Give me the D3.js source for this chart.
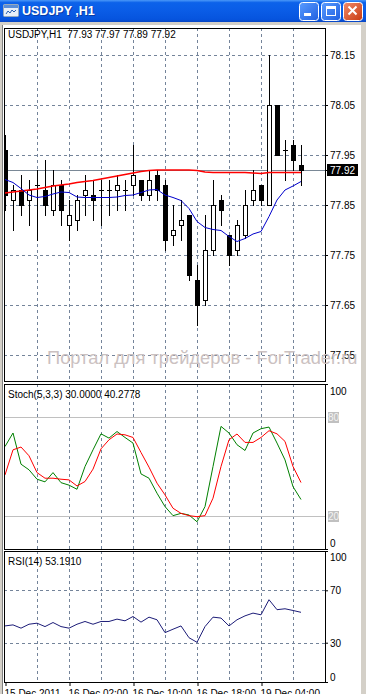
<!DOCTYPE html>
<html><head><meta charset="utf-8">
<script src="https://cdn.jsdelivr.net/npm/d3@7"></script>
<style>html,body{margin:0;padding:0;overflow:hidden;background:#d4d0c8}svg{display:block}</style>
</head><body>
<svg id="c" width="366" height="694"></svg>
<script>
// ---------- data ----------
const symbolTitle = "USDJPY ,H1";
const headerText = "USDJPY,H1  77.93 77.97 77.89 77.92";
const stochText = "Stoch(5,3,3) 30.0000 40.2778";
const rsiText = "RSI(14) 53.1910";
const watermark = "Портал для трейдеров - ForTrader.ru";
const timeLabels = ["15 Dec 2011","16 Dec 02:00","16 Dec 10:00","16 Dec 18:00","19 Dec 04:00"];
const timeLabelIdx = [0,8,16,24,32];
const gridIdx = [4,8,12,16,20,24,28,32,36];
const priceTicks = [77.55,77.65,77.75,77.85,77.95,78.05,78.15];
const lastPrice = 77.92;
const stochTicks = [100,0];
const stochLevels = [80,20];
const rsiTicks = [100,70,30,0];
const rsiLevels = [70,30];

const open  = [77.96,77.86,77.88,77.86,77.89,77.88,77.84,77.89,77.81,77.82,77.87,77.87,77.88,77.88,77.88,77.88,77.89,77.90,77.87,77.91,77.89,77.79,77.81,77.83,77.70,77.66,77.76,77.86,77.79,77.76,77.79,77.86,77.89,77.85,78.05,77.96,77.97,77.93];
const high  = [77.99,77.89,77.91,77.90,77.92,77.94,77.92,77.90,77.86,77.87,77.91,77.90,77.90,77.90,77.91,77.90,77.97,77.90,77.92,77.92,77.90,77.85,77.86,77.83,77.73,77.83,77.90,77.87,77.79,77.82,77.88,77.92,77.89,78.15,78.05,77.98,77.98,77.97];
const low   = [77.84,77.80,77.83,77.81,77.78,77.83,77.83,77.81,77.78,77.80,77.83,77.82,77.81,77.83,77.84,77.84,77.87,77.86,77.86,77.86,77.76,77.77,77.78,77.70,77.61,77.65,77.75,77.81,77.73,77.75,77.785,77.85,77.85,77.85,77.95,77.90,77.92,77.89];
const close = [77.87,77.88,77.85,77.88,77.89,77.85,77.89,77.84,77.83,77.86,77.88,77.86,77.88,77.88,77.89,77.88,77.91,77.87,77.90,77.88,77.78,77.80,77.82,77.71,77.65,77.76,77.85,77.84,77.75,77.81,77.85,77.88,77.86,78.05,77.95,77.96,77.94,77.92];

const maSlow = [77.874,77.876,77.878,77.880,77.882,77.885,77.888,77.890,77.892,77.895,77.897,77.899,77.902,77.905,77.908,77.911,77.914,77.917,77.919,77.920,77.920,77.920,77.920,77.920,77.919,77.916,77.915,77.915,77.915,77.915,77.915,77.914,77.913,77.915,77.915,77.915,77.915,77.915];
const maFast = [77.901,77.895,77.883,77.870,77.865,77.867,77.872,77.876,77.875,77.866,77.865,77.865,77.865,77.865,77.866,77.869,77.870,77.875,77.880,77.881,77.870,77.865,77.859,77.843,77.817,77.805,77.801,77.799,77.787,77.777,77.783,77.792,77.797,77.827,77.860,77.880,77.888,77.897];

const stochMain   = [62.1,70.3,51.4,48.0,42.3,40.7,46.3,40.2,38.7,36.2,50.0,60.1,69.8,67.2,71.2,67.6,64.2,45.5,42.9,33.8,25.7,20.2,21.6,20.6,16.5,25.7,50.0,74.3,70.3,63.2,59.7,70.3,72.9,73.9,64.2,54.0,37.8,30.0];
const stochSignal = [44.9,60.1,61.8,56.5,46.3,42.9,42.9,42.3,41.9,38.2,40.9,48.4,60.7,66.2,69.7,69.2,67.6,58.5,49.6,39.9,32.8,24.7,21.6,20.2,19.6,20.2,30.8,50.0,66.2,69.7,64.6,64.6,67.6,71.7,69.8,65.2,50.0,40.28];
const rsi = [42.8,43.6,41.1,44.1,44.9,42.3,45.4,42.3,41.1,44.1,46.2,44.1,46.2,46.2,48.0,46.7,50.0,45.7,49.5,47.5,37.7,40.3,42.8,33.8,30.3,42.3,49.5,48.8,42.8,47.5,50.5,52.6,51.3,62.8,55.2,55.9,54.6,53.19];

// ---------- layout ----------
const svg = d3.select("#c");
const FONT = "'Liberation Sans', Arial, sans-serif";
const L = 4, R = 325;
const main = {top:28, bottom:381};
const sto = {top:384, bottom:549};
const rsiP = {top:551, bottom:682};
const n = open.length;

const x = d3.scaleLinear().domain([0, n-1]).range([5, 301]);
const y = d3.scaleLinear().domain([77.55, 78.15]).range([355, 55]);
const ys = d3.scaleLinear().domain([0, 100]).range([sto.bottom, sto.top]);
const yr = d3.scaleLinear().domain([0, 100]).range([rsiP.bottom, rsiP.top]);
const px = v => Math.round(v) + 0.5;

const defs = svg.append("defs");
const tg = defs.append("linearGradient").attr("id","tb").attr("x1",0).attr("y1",0).attr("x2",0).attr("y2",1);
[[0,"#4a98f8"],[0.12,"#0c62ea"],[0.5,"#0a5ce6"],[0.88,"#0654de"],[1,"#0845c4"]].forEach(s=>tg.append("stop").attr("offset",s[0]).attr("stop-color",s[1]));
const bg = defs.append("linearGradient").attr("id","btn").attr("x1",0).attr("y1",0).attr("x2",1).attr("y2",1);
[[0,"#5a9cff"],[1,"#1f5fe0"]].forEach(s=>bg.append("stop").attr("offset",s[0]).attr("stop-color",s[1]));
const cg = defs.append("linearGradient").attr("id","cls").attr("x1",0).attr("y1",0).attr("x2",1).attr("y2",1);
[[0,"#f08a6a"],[1,"#c83a10"]].forEach(s=>cg.append("stop").attr("offset",s[0]).attr("stop-color",s[1]));
defs.append("clipPath").attr("id","cm").append("rect").attr("x",L+1).attr("y",main.top+1).attr("width",R-L-1).attr("height",main.bottom-main.top-1);
defs.append("clipPath").attr("id","cs").append("rect").attr("x",L+1).attr("y",sto.top).attr("width",R-L-1).attr("height",sto.bottom-sto.top);
defs.append("clipPath").attr("id","cr").append("rect").attr("x",L+1).attr("y",rsiP.top).attr("width",R-L-1).attr("height",rsiP.bottom-rsiP.top);

// window background
svg.append("rect").attr("x",0).attr("y",0).attr("width",366).attr("height",694).attr("fill","#d4d0c8");
svg.append("rect").attr("x",3).attr("y",25).attr("width",358).attr("height",669).attr("fill","#ffffff");
svg.append("line").attr("x1",2.5).attr("x2",2.5).attr("y1",25).attr("y2",694).attr("stroke","#808080");

// title bar
svg.append("rect").attr("x",0).attr("y",0).attr("width",366).attr("height",22).attr("fill","url(#tb)");
const ic = svg.append("g").attr("transform","translate(3,4)");
ic.append("rect").attr("x",0.5).attr("y",0.5).attr("width",15).attr("height",12).attr("fill","#e8f0fa").attr("stroke","#9ab").attr("rx",1);
ic.append("rect").attr("x",1).attr("y",1).attr("width",14).attr("height",3).attr("fill","#5a8ed8");
ic.append("path").attr("d","M3,10 L5,7 L7,9 L9,6 L11,8 L13,6").attr("fill","none").attr("stroke","#2a60b0").attr("stroke-width",1);
svg.append("text").attr("x",23).attr("y",16).text(symbolTitle).attr("font-family",FONT).attr("font-weight","bold").attr("font-size",12.5).attr("fill","#0a2a80").attr("opacity",0.6);
svg.append("text").attr("x",22).attr("y",15).text(symbolTitle).attr("font-family",FONT).attr("font-weight","bold").attr("font-size",12.5).attr("fill","#ffffff");
// buttons
[[299,"url(#btn)","min"],[321,"url(#btn)","max"],[343,"url(#cls)","close"]].forEach(([bx,f,k])=>{
  svg.append("rect").attr("x",bx+0.5).attr("y",2.5).attr("width",19).attr("height",18).attr("rx",3).attr("fill",f).attr("stroke","#ffffff");
  if(k==="min") svg.append("rect").attr("x",bx+5).attr("y",13).attr("width",7).attr("height",3).attr("fill","#fff");
  if(k==="max"){ svg.append("rect").attr("x",bx+5.5).attr("y",6.5).attr("width",9).attr("height",9).attr("fill","none").attr("stroke","#fff");
                 svg.append("rect").attr("x",bx+5).attr("y",6).attr("width",10).attr("height",3).attr("fill","#fff"); }
  if(k==="close") svg.append("path").attr("d",`M${bx+5.5},6.5 L${bx+13.5},14.5 M${bx+13.5},6.5 L${bx+5.5},14.5`).attr("stroke","#fff").attr("stroke-width",2);
});

const gridColor = "#74849a";
function vgrid(top,bottom){
  svg.append("g").selectAll("line").data(gridIdx).join("line")
    .attr("x1",d=>px(x(d))).attr("x2",d=>px(x(d))).attr("y1",top).attr("y2",bottom)
    .attr("stroke",gridColor).attr("stroke-dasharray","3,3").attr("shape-rendering","crispEdges");
}

// ---------- main pane ----------
vgrid(main.top, main.bottom);
svg.append("g").selectAll("line").data(priceTicks).join("line")
  .attr("x1",L).attr("x2",R).attr("y1",d=>px(y(d))).attr("y2",d=>px(y(d)))
  .attr("stroke",gridColor).attr("stroke-dasharray","3,3").attr("shape-rendering","crispEdges");
svg.append("line").attr("x1",L).attr("x2",R).attr("y1",px(y(lastPrice))).attr("y2",px(y(lastPrice)))
  .attr("stroke","#7a8896").attr("shape-rendering","crispEdges");

const gm = svg.append("g").attr("clip-path","url(#cm)").attr("shape-rendering","crispEdges");
const idx = d3.range(n);
gm.selectAll("line.w").data(idx).join("line").attr("class","w")
  .attr("x1",i=>px(x(i))).attr("x2",i=>px(x(i))).attr("y1",i=>Math.round(y(high[i]))).attr("y2",i=>Math.round(y(low[i]))+1)
  .attr("stroke","#000");
gm.selectAll("rect.b").data(idx.filter(i=>open[i]!==close[i])).join("rect").attr("class","b")
  .attr("x",i=>Math.round(x(i))-1.5).attr("width",4)
  .attr("y",i=>Math.round(y(Math.max(open[i],close[i])))+0.5)
  .attr("height",i=>Math.max(1,Math.round(y(Math.min(open[i],close[i])))-Math.round(y(Math.max(open[i],close[i])))))
  .attr("fill",i=>close[i]>open[i]?"#fff":"#000").attr("stroke","#000");
gm.selectAll("line.d").data(idx.filter(i=>open[i]===close[i])).join("line").attr("class","d")
  .attr("x1",i=>Math.round(x(i))-2).attr("x2",i=>Math.round(x(i))+3).attr("y1",i=>px(y(open[i]))).attr("y2",i=>px(y(open[i])))
  .attr("stroke","#000");

const gl = svg.append("g").attr("clip-path","url(#cm)");
gl.append("path").datum(maSlow).attr("d",d3.line().x((d,i)=>x(i)).y(d=>y(d))).attr("fill","none").attr("stroke","#ff0000").attr("stroke-width",1.6);
gl.append("path").datum(maFast).attr("d",d3.line().x((d,i)=>x(i)).y(d=>y(d))).attr("fill","none").attr("stroke","#0000cc").attr("stroke-width",1);

svg.append("rect").attr("x",L+0.5).attr("y",main.top+0.5).attr("width",R-L).attr("height",main.bottom-main.top).attr("fill","none").attr("stroke","#000").attr("shape-rendering","crispEdges");

const pa = svg.append("g").attr("transform",`translate(${R},0)`)
  .call(d3.axisRight(y).tickValues(priceTicks).tickSize(3).tickPadding(2).tickFormat(d3.format(".2f")));
pa.select(".domain").remove();
pa.selectAll("text").attr("font-family",FONT).attr("font-size",10).attr("fill","#000");
pa.selectAll("line").attr("stroke","#000");
// current price label
const ly = Math.round(y(lastPrice));
svg.append("rect").attr("x",327).attr("y",ly-6).attr("width",31).attr("height",12).attr("fill","#000");
svg.append("text").attr("x",330).attr("y",ly).attr("dy","0.35em").text(d3.format(".2f")(lastPrice)).attr("font-family",FONT).attr("font-size",10).attr("fill","#fff");
svg.append("line").attr("x1",R).attr("x2",R+3).attr("y1",ly+0.5).attr("y2",ly+0.5).attr("stroke","#000");

svg.append("text").attr("x",8).attr("y",38).text(headerText).attr("font-family",FONT).attr("font-size",10).attr("fill","#000").style("white-space","pre");
svg.append("text").attr("x",47).attr("y",364).text(watermark).attr("font-family",FONT).attr("font-size",18.3).attr("fill","#cbc1c1").style("white-space","pre");

// ---------- stochastic pane ----------
vgrid(sto.top, sto.bottom);
svg.append("g").selectAll("line").data(stochLevels).join("line")
  .attr("x1",L).attr("x2",R).attr("y1",d=>px(ys(d))).attr("y2",d=>px(ys(d))).attr("stroke","#c0c0c0").attr("shape-rendering","crispEdges");
const gs = svg.append("g").attr("clip-path","url(#cs)");
gs.append("path").datum(stochMain).attr("d",d3.line().x((d,i)=>x(i)).y(d=>ys(d))).attr("fill","none").attr("stroke","#008000").attr("stroke-width",1);
gs.append("path").datum(stochSignal).attr("d",d3.line().x((d,i)=>x(i)).y(d=>ys(d))).attr("fill","none").attr("stroke","#ff0000").attr("stroke-width",1);
svg.append("rect").attr("x",L+0.5).attr("y",sto.top+0.5).attr("width",R-L).attr("height",sto.bottom-sto.top).attr("fill","none").attr("stroke","#000").attr("shape-rendering","crispEdges");
const sa = svg.append("g").attr("transform",`translate(${R},0)`).call(d3.axisRight(ys).tickValues(stochTicks).tickSize(3).tickPadding(2));
sa.select(".domain").remove();
sa.selectAll("line").attr("stroke","#000");
sa.selectAll("text").attr("font-family",FONT).attr("font-size",10).attr("fill","#000").attr("dy",d=>d===100?"1.05em":"-0.25em");
stochLevels.forEach(v=>{
  const yy = Math.round(ys(v));
  svg.append("rect").attr("x",328).attr("y",yy-5).attr("width",11).attr("height",11).attr("fill","#c0c0c0");
  svg.append("text").attr("x",328).attr("y",yy).attr("dy","0.35em").text(v).attr("font-family",FONT).attr("font-size",10).attr("fill","#f4f4f4");
});
svg.append("text").attr("x",8).attr("y",398).text(stochText).attr("font-family",FONT).attr("font-size",10).attr("fill","#000");

// ---------- RSI pane ----------
vgrid(rsiP.top, rsiP.bottom);
svg.append("g").selectAll("line").data(rsiLevels).join("line")
  .attr("x1",L).attr("x2",R).attr("y1",d=>px(yr(d))).attr("y2",d=>px(yr(d)))
  .attr("stroke",gridColor).attr("stroke-dasharray","3,3").attr("shape-rendering","crispEdges");
svg.append("g").attr("clip-path","url(#cr)").append("path").datum(rsi)
  .attr("d",d3.line().x((d,i)=>x(i)).y(d=>yr(d))).attr("fill","none").attr("stroke","#1c1c78").attr("stroke-width",1);
svg.append("rect").attr("x",L+0.5).attr("y",rsiP.top+0.5).attr("width",R-L).attr("height",rsiP.bottom-rsiP.top).attr("fill","none").attr("stroke","#000").attr("shape-rendering","crispEdges");
const ra = svg.append("g").attr("transform",`translate(${R},0)`).call(d3.axisRight(yr).tickValues(rsiTicks).tickSize(3).tickPadding(2));
ra.select(".domain").remove();
ra.selectAll("line").attr("stroke","#000");
ra.selectAll("text").attr("font-family",FONT).attr("font-size",10).attr("fill","#000").attr("dy",d=>d===100?"0.9em":(d===0?"-0.2em":"0.35em"));
svg.append("text").attr("x",8).attr("y",565).text(rsiText).attr("font-family",FONT).attr("font-size",10).attr("fill","#000");

// ---------- time axis ----------
const ta = svg.append("g").attr("transform",`translate(0,${rsiP.bottom})`)
  .call(d3.axisBottom(x).tickValues(timeLabelIdx).tickSize(4).tickPadding(4).tickFormat((d,i)=>timeLabels[i]));
ta.select(".domain").remove();
ta.selectAll("line").attr("stroke","#000").attr("transform","translate(0.5,0)");
ta.selectAll("text").attr("font-family",FONT).attr("font-size",10).attr("fill","#000").attr("text-anchor","start").attr("x",-1);
</script>
</body></html>
